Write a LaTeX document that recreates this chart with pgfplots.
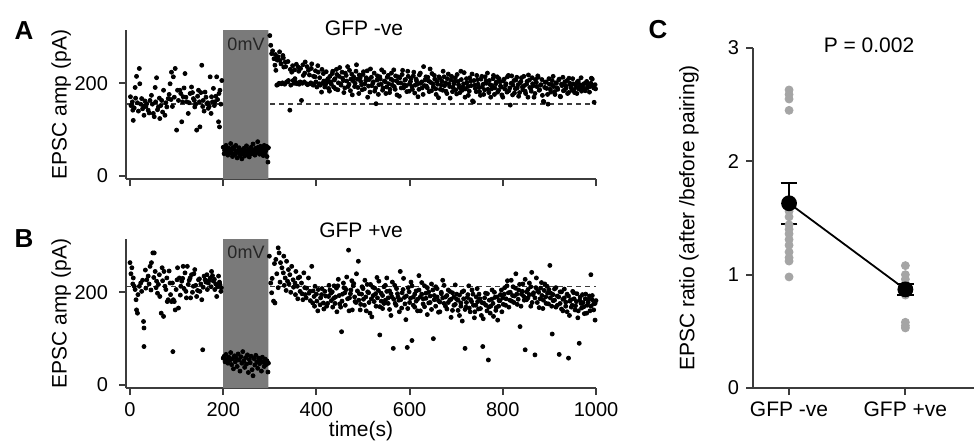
\documentclass[border=0pt]{standalone}
\usepackage{fontspec}
\setmainfont{Liberation Sans}
\usepackage{pgfplots}
\pgfplotsset{compat=1.18}

\definecolor{boxgray}{RGB}{122,122,122}
\definecolor{dotgray}{RGB}{165,165,165}
\definecolor{axgray}{RGB}{60,60,60}

\pgfplotsset{
  panel/.style={
    scale only axis,
    axis x line*=bottom, axis y line*=left,
    axis line style={line width=1pt, axgray},
    tick style={line width=1pt, axgray},
    tick align=outside, major tick length=3.5pt,
    /pgf/number format/assume math mode=true,
    /pgf/number format/1000 sep={},
    tick label style={font=\fontsize{10}{12}\selectfont},
    label style={font=\fontsize{10.5}{12}\selectfont},
  },
  trace/.style={
    panel, width=235pt, height=74.5pt,
    xmin=-8.6, xmax=1000, ymin=-6.5, ymax=315,
    xtick={0,200,400,600,800,1000}, ytick={0,200},
    yticklabel style={xshift=-2pt},
    ylabel={EPSC amp (pA)},
    ylabel style={at={(axis description cs:-0.138,0.5)}, anchor=center},
  },
  dots/.style={only marks, mark=*, mark size=1pt, black},
}

\begin{document}
\begin{tikzpicture}
\path[use as bounding box] (0,0) rectangle (487pt,220.5pt);

% ---------- A ----------
\begin{axis}[trace, at={(63pt,131pt)}, anchor=south west, xticklabels={}]
\addplot[axgray, line width=0.7pt, dash pattern=on 2.5pt off 2pt] coordinates {(-8.6,155) (1000,155)};
\addplot[fill=boxgray, draw=none] coordinates {(200,-7) (200,316) (297,316) (297,-7) (200,-7)};
% before pairing
\addplot[dots] coordinates {
(1,171) (4,153) (6,142) (7,120) (11,191) (14,215) (20,232) (21,199) (25,167) (29,151)
(30,131) (36,156) (39,142) (43,163) (46,174) (50,135) (54,191) (57,212) (61,149) (64,124)
(68,163) (72,185) (75,131) (79,149) (82,167) (86,199) (89,224) (93,214) (97,232) (100,99)
(104,163) (107,185) (111,117) (114,171) (118,221) (122,160) (125,135) (129,178) (132,192) (136,167)
(139,149) (143,99) (147,185) (150,106) (154,239) (157,163) (161,181) (165,156) (168,146) (172,214)
(175,171) (179,189) (182,160) (186,214) (190,117) (192,106) (193,185) (197,206)
(2,152) (5,160) (9,147) (12,168) (16,158) (18,140) (23,155) (27,145) (32,162) (34,150)
(41,136) (48,155) (52,128) (55,160) (59,143) (63,168) (66,152) (70,138) (77,158) (84,176)
(88,165) (91,150) (95,170) (102,185) (109,178) (113,160) (116,190) (120,170) (127,158) (134,180)
(138,163) (141,155) (145,172) (149,160) (152,180) (156,150) (159,140) (163,170) (167,158) (170,150)
(174,135) (177,160) (181,152) (184,172) (188,165) (191,178) (195,155)
};
% pairing at 0 mV
\addplot[dots] coordinates {
(200,62) (202,48) (204,57) (206,66) (208,52) (210,45) (212,60) (214,55) (216,70) (218,50)
(220,42) (222,58) (224,63) (226,47) (228,54) (230,39) (232,51) (234,61) (236,44) (238,56)
(240,37) (242,49) (244,58) (246,43) (248,53) (250,65) (252,46) (254,57) (256,41) (258,52)
(260,62) (262,48) (264,69) (266,55) (268,45) (270,60) (272,51) (274,74) (276,57) (278,47)
(280,64) (282,53) (284,59) (286,44) (288,66) (290,50) (292,56) (294,42) (296,30) (297,61)
(203,55) (209,58) (215,49) (221,61) (227,66) (233,56) (239,48) (245,60) (251,54) (257,50)
(263,56) (269,52) (275,62) (281,48) (287,57) (293,64)
};
% after pairing
\addplot[dots] coordinates {
(300,303) (304,264) (309,253) (311,239) (313,228) (315,196) (318,257) (322,249) (325,199) (328,260)
(330,235) (333,246) (336,203) (340,206) (343,142) (347,224) (350,206) (354,210) (358,199) (361,235)
(365,203) (368,163) (372,217) (376,246) (379,199) (383,228) (386,199) (390,242) (393,196) (397,214)
(401,192) (404,224) (408,196) (411,181) (415,221) (418,192) (422,206) (426,189)
(317,197) (320,200) (327,201) (332,198) (338,203) (345,196) (352,200) (356,202) (363,198) (370,200)
(374,203) (381,197) (388,201) (395,199) (399,203) (406,199) (413,200) (420,198) (424,203)
(302,282) (306,270) (312,262) (316,250) (321,268) (324,242) (329,255) (334,236) (339,247) (344,230)
(349,238) (353,229) (357,241) (362,226) (366,232) (371,240) (375,222) (380,236) (385,218) (389,232)
(394,215) (398,227) (403,238) (407,212) (412,230) (416,205) (421,225) (425,210) (428,183)
(429,215) (432,198) (435,226) (438,207) (441,188) (444,219) (447,201) (450,234) (453,196) (456,211)
(459,180) (462,222) (465,205) (468,193) (471,228) (474,209) (477,175) (480,214) (483,200) (486,240)
(489,191) (492,218) (495,204) (498,186) (501,225) (504,199) (507,212) (510,170) (513,208) (516,231)
(519,195) (522,203) (525,183) (528,156) (531,216) (534,197) (537,209) (540,229) (543,190) (546,205)
(549,178) (552,213) (555,199) (558,187) (561,222) (564,206) (567,193) (570,216) (573,175) (576,201)
(579,212) (582,190) (585,228) (588,197) (591,208) (594,182) (597,215) (600,199) (603,211) (606,187)
(609,224) (612,196) (615,205) (618,171) (621,218) (624,200) (627,190) (630,236) (633,207) (636,194)
(639,213) (642,182) (645,202) (648,221) (651,192) (654,209) (657,176) (660,198) (663,214) (666,187)
(669,205) (672,226) (675,195) (678,183) (681,210) (684,199) (687,168) (690,215) (693,191) (696,204)
(699,186) (702,219) (705,197) (708,180) (711,208) (714,193) (717,223) (720,188) (723,201) (726,174)
(729,212) (732,195) (735,162) (738,206) (741,189) (744,217) (747,198) (750,182) (753,209) (756,192)
(759,176) (762,214) (765,200) (768,187) (771,206) (774,170) (777,195) (780,217) (783,190) (786,203)
(789,181) (792,210) (795,194) (798,175) (801,205) (804,188) (807,199) (810,214) (813,184) (816,153)
(819,216) (822,196) (825,179) (828,207) (831,190) (834,172) (837,201) (840,212) (843,186) (846,195)
(849,178) (852,204) (855,218) (858,191) (861,183) (864,199) (867,170) (870,208) (873,193) (876,213)
(879,186) (882,197) (885,174) (888,160) (891,202) (894,189) (897,155) (900,198) (903,181) (906,206)
(909,193) (912,176) (915,200) (918,187) (921,209) (924,171) (927,195) (930,184) (933,203) (936,190)
(939,178) (942,211) (945,196) (948,185) (951,199) (954,180) (957,192) (960,203) (963,188) (966,197)
(969,183) (972,194) (975,186) (978,201) (981,190) (984,198) (987,193) (990,211) (993,196) (996,159)
(999,188)
(431,203) (434,221) (437,192) (440,210) (443,230) (446,186) (449,215) (452,199) (455,224) (458,206)
(461,190) (464,217) (467,236) (470,198) (473,184) (476,220) (479,205) (482,193) (485,226) (488,209)
(491,178) (494,212) (497,197) (500,219) (503,188) (506,206) (509,227) (512,194) (515,181) (518,213)
(521,200) (524,222) (527,190) (530,207) (533,176) (536,214) (539,198) (542,185) (545,224) (548,203)
(551,192) (554,217) (557,180) (560,209) (563,196) (566,229) (569,187) (572,205) (575,214) (578,172)
(581,201) (584,219) (587,190) (590,207) (593,195) (596,226) (599,183) (602,204) (605,193) (608,216)
(611,179) (614,209) (617,198) (620,187) (623,222) (626,203) (629,176) (632,195) (635,214) (638,190)
(641,205) (644,231) (647,184) (650,199) (653,217) (656,188) (659,204) (662,169) (665,211) (668,196)
(671,185) (674,214) (677,201) (680,178) (683,220) (686,193) (689,207) (692,182) (695,199) (698,212)
(701,177) (704,204) (707,191) (710,226) (713,185) (716,199) (719,170) (722,210) (725,193) (728,183)
(731,205) (734,220) (737,160) (740,196) (743,182) (746,208) (749,191) (752,174) (755,215) (758,198)
(761,186) (764,205) (767,222) (770,180) (773,197) (776,188) (779,210) (782,176) (785,199) (788,214)
(791,185) (794,203) (797,192) (800,170) (803,209) (806,196) (809,181) (812,217) (815,190) (818,200)
(821,175) (824,206) (827,188) (830,213) (833,197) (836,180) (839,204) (842,192) (845,215) (848,183)
(851,198) (854,170) (857,207) (860,189) (863,212) (866,195) (869,178) (872,202) (875,216) (878,185)
(881,196) (884,208) (887,161) (890,191) (893,203) (896,176) (899,210) (902,187) (905,197) (908,215)
(911,182) (914,201) (917,190) (920,207) (923,172) (926,198) (929,213) (932,185) (935,195) (938,206)
(941,180) (944,200) (947,190) (950,210) (953,186) (956,197) (959,178) (962,205) (965,193) (968,212)
(971,189) (974,199) (977,184) (980,204) (983,195) (986,181) (989,200) (992,209) (995,190) (998,197)
};
\end{axis}

% ---------- B ----------
\begin{axis}[trace, at={(63pt,26.5pt)}, anchor=south west,
  xlabel={time(s)},
  xlabel style={at={(axis description cs:0.5,-0.29)}, anchor=center}]
\addplot[axgray, line width=0.7pt, dash pattern=on 2.5pt off 2pt] coordinates {(-8.6,213) (1000,213)};
\addplot[fill=boxgray, draw=none] coordinates {(200,-7) (200,316) (297,316) (297,-7) (200,-7)};
% before pairing
\addplot[dots] coordinates {
(0,264) (4,253) (7,231) (9,213) (11,206) (13,184) (14,162) (16,155) (20,213) (23,220)
(25,202) (29,137) (30,123) (30,83) (34,209) (36,227) (39,235) (43,256) (46,264) (49,285)
(52,285) (54,245) (57,224) (61,217) (64,191) (67,155) (69,253) (72,148) (73,245) (75,213)
(79,231) (80,180) (82,184) (86,220) (89,180) (92,72) (93,184) (97,162) (99,206) (102,253)
(104,166) (106,231) (109,213) (111,224) (114,256) (118,242) (120,202) (123,256) (125,217) (129,231)
(130,188) (132,238) (136,213) (139,249) (143,191) (147,227) (150,202) (154,184) (156,76) (159,235)
(161,227) (165,238) (168,220) (172,231) (175,245) (179,224) (182,206) (186,191) (190,235) (193,217)
(195,202)
(2,240) (6,218) (17,195) (27,226) (33,248) (41,218) (45,205) (51,232) (56,210) (59,198)
(63,238) (70,225) (77,206) (84,246) (87,195) (91,220) (95,180) (101,227) (108,194) (113,230)
(116,208) (121,188) (127,226) (134,200) (137,240) (141,215) (145,204) (149,229) (152,218) (157,211)
(163,222) (166,206) (170,226) (174,212) (177,236) (181,228) (184,218) (188,212) (192,222) (196,210)
};
% pairing at 0 mV
\addplot[dots] coordinates {
(200,58) (202,62) (204,50) (206,66) (208,55) (210,47) (212,60) (214,53) (216,70) (218,44)
(220,57) (222,35) (224,63) (226,50) (228,58) (230,40) (232,67) (234,54) (236,30) (238,61)
(240,47) (242,72) (244,52) (246,38) (248,59) (250,45) (252,65) (254,27) (256,55) (258,48)
(260,62) (262,33) (264,20) (266,57) (268,43) (270,64) (272,50) (274,36) (276,58) (278,46)
(280,53) (282,30) (284,60) (286,49) (288,40) (290,56) (292,44) (294,52) (296,28) (297,47)
};
% after pairing
\addplot[dots] coordinates {
(299,278) (302,220) (304,199) (308,181) (311,177) (313,271) (318,296) (320,285) (323,264) (326,253)
(329,242) (330,278) (333,231) (336,267) (338,224) (340,249) (343,238) (347,256) (350,227) (354,220)
(356,245) (359,213) (361,231) (365,202) (368,220) (371,184) (373,242) (376,195) (379,209) (383,231)
(386,202) (390,256) (392,177) (395,191) (397,213) (401,181) (404,206) (408,173) (411,195) (415,177)
(418,202) (422,170) (426,191)
(305,230) (310,262) (315,240) (318,210) (322,222) (331,215) (335,204) (341,218) (345,200) (351,211)
(355,195) (360,186) (364,233) (369,197) (375,210) (378,188) (384,198) (387,182) (393,203) (396,170)
(400,196) (403,160) (409,188) (412,208) (416,164) (420,192) (424,176) (427,215)
(429,205) (432,182) (435,168) (438,214) (441,190) (444,158) (447,228) (450,175) (454,115) (456,196)
(459,210) (462,172) (465,233) (469,291) (471,188) (474,205) (477,162) (480,219) (483,180) (486,240)
(490,267) (492,197) (495,174) (498,212) (501,185) (504,226) (507,160) (510,201) (513,178) (516,217)
(519,147) (522,193) (525,209) (528,170) (531,188) (534,224) (536,108) (539,198) (542,165) (545,212)
(548,183) (551,231) (554,176) (557,203) (560,150) (562,190) (565,79) (568,215) (571,172) (574,197)
(577,183) (580,245) (583,166) (586,206) (589,189) (592,141) (595,81) (597,210) (600,178) (603,222)
(605,96) (608,190) (611,168) (614,203) (617,185) (620,236) (623,160) (626,196) (629,175) (632,214)
(635,187) (638,152) (641,201) (644,178) (647,218) (651,100) (653,193) (656,170) (659,208) (662,182)
(665,158) (668,197) (671,226) (674,176) (677,190) (680,164) (683,205) (686,183) (689,146) (692,199)
(695,172) (698,216) (701,185) (704,161) (707,194) (710,177) (713,138) (716,203) (719,79) (721,168)
(724,189) (727,214) (730,158) (733,180) (736,196) (739,145) (742,172) (745,208) (748,164) (751,186)
(754,150) (757,83) (760,176) (763,198) (766,160) (769,54) (771,183) (774,170) (777,205) (780,148)
(783,189) (786,167) (789,140) (792,182) (795,195) (798,158) (801,174) (804,210) (807,186) (810,225)
(813,168) (816,200) (819,181) (822,212) (825,192) (828,240) (831,174) (834,205) (837,126) (840,196)
(843,218) (846,183) (848,76) (851,201) (854,188) (857,220) (860,170) (862,243) (865,195) (869,65)
(871,210) (874,178) (877,200) (880,186) (883,221) (886,165) (889,204) (892,190) (895,213) (898,175)
(901,258) (903,198) (906,110) (908,182) (911,207) (914,168) (917,192) (921,66) (923,176) (926,201)
(929,160) (932,188) (935,170) (938,196) (941,58) (943,150) (946,184) (949,172) (952,199) (955,162)
(958,180) (961,145) (964,90) (966,190) (969,166) (972,178) (975,154) (978,196) (981,172) (984,185)
(987,160) (989,238) (992,193) (995,175) (998,140) (1000,182)
(431,198) (434,201) (437,187) (440,176) (443,209) (446,214) (449,193) (452,168) (455,181) (458,220)
(461,199) (464,206) (467,186) (470,160) (473,197) (476,225) (479,214) (482,190) (485,178) (488,203)
(491,183) (494,162) (497,196) (500,208) (503,172) (506,190) (509,217) (512,199) (515,155) (518,186)
(521,211) (524,180) (527,197) (530,232) (533,204) (536,169) (539,181) (542,193) (545,176) (548,215)
(551,202) (554,188) (557,163) (560,197) (563,222) (566,185) (569,176) (572,208) (575,190) (578,158)
(581,184) (584,199) (587,230) (590,175) (593,192) (596,165) (599,201) (602,187) (605,214) (608,172)
(611,196) (614,181) (617,160) (620,205) (623,190) (626,221) (629,186) (632,169) (635,198) (638,210)
(641,177) (644,192) (647,163) (650,205) (653,184) (656,212) (659,190) (662,157) (665,179) (668,200)
(671,188) (674,215) (677,170) (680,193) (683,178) (686,202) (689,185) (692,161) (695,190) (698,174)
(701,196) (704,183) (707,150) (710,170) (713,201) (716,186) (719,163) (722,178) (725,195) (728,166)
(731,184) (734,205) (737,172) (740,158) (743,190) (746,180) (749,196) (752,165) (755,178) (758,143)
(761,188) (764,172) (767,197) (770,168) (773,155) (776,185) (779,176) (782,200) (785,161) (788,190)
(791,170) (794,182) (797,205) (800,188) (803,196) (806,172) (809,214) (812,199) (815,183) (818,226)
(821,193) (824,178) (827,209) (830,196) (833,185) (836,217) (839,170) (842,202) (845,191) (848,228)
(851,184) (854,206) (857,195) (860,212) (863,178) (866,199) (869,188) (872,231) (875,203) (878,167)
(881,209) (884,193) (887,183) (890,218) (893,176) (896,198) (899,206) (902,188) (905,170) (908,195)
(911,183) (914,210) (917,172) (920,190) (923,201) (926,164) (929,185) (932,207) (935,179) (938,158)
(941,192) (944,181) (947,168) (950,202) (953,186) (956,171) (959,197) (962,160) (965,183) (968,176)
(971,195) (974,169) (977,186) (980,155) (983,178) (986,192) (989,170) (992,184) (995,162) (998,176)
};
\end{axis}

% ---------- C ----------
\begin{axis}[panel, at={(376.5pt,26.5pt)}, anchor=south west,
  width=110.5pt, height=170pt,
  xmin=-0.31, xmax=1.59, ymin=0, ymax=3,
  xtick={0,1}, xticklabels={GFP -ve, GFP +ve},
  ytick={0,1,2,3},
  xticklabel style={font=\fontsize{10.5}{12}\selectfont},
  ylabel={EPSC ratio (after /before pairing)},
  ylabel style={at={(axis description cs:-0.29,0.5)}, anchor=center},
  clip=false]
\addplot[only marks, mark=*, mark size=2pt, dotgray] coordinates {
(0,2.63) (0,2.59) (0,2.55) (0,2.45) (0,1.56) (0,1.51) (0,1.44) (0,1.40) (0,1.36) (0,1.31)
(0,1.26) (0,1.20) (0,1.15) (0,1.12) (0,0.98)
(1,1.08) (1,1.00) (1,0.96) (1,0.92) (1,0.88) (1,0.85) (1,0.82) (1,0.58) (1,0.55) (1,0.53)
};
\addplot[black, line width=0.9pt, mark=*, mark size=3.5pt,
  error bars/.cd, y dir=both, y explicit,
  error mark options={rotate=90, mark size=4.2pt, line width=0.9pt},
  error bar style={line width=0.9pt}]
  coordinates {(0,1.63) +- (0,0.18) (1,0.87) +- (0,0.05)};
\end{axis}

% ---------- panel letters and annotations ----------
\node[font=\fontsize{13}{13}\selectfont\bfseries] at (12pt,205pt) {A};
\node[font=\fontsize{13}{13}\selectfont\bfseries] at (12pt,101pt) {B};
\node[font=\fontsize{13}{13}\selectfont\bfseries] at (329pt,205.5pt) {C};
\node[font=\fontsize{10.5}{12}\selectfont] at (182pt,206.5pt) {GFP -ve};
\node[font=\fontsize{10.5}{12}\selectfont] at (180.5pt,105.5pt) {GFP +ve};
\node[font=\fontsize{9}{10}\selectfont, text=black!85] at (123pt,198.5pt) {0mV};
\node[font=\fontsize{9}{10}\selectfont, text=black!85] at (123pt,94.3pt) {0mV};
\node[font=\fontsize{10.5}{12}\selectfont] at (434.5pt,198pt) {P = 0.002};
\end{tikzpicture}
\end{document}
